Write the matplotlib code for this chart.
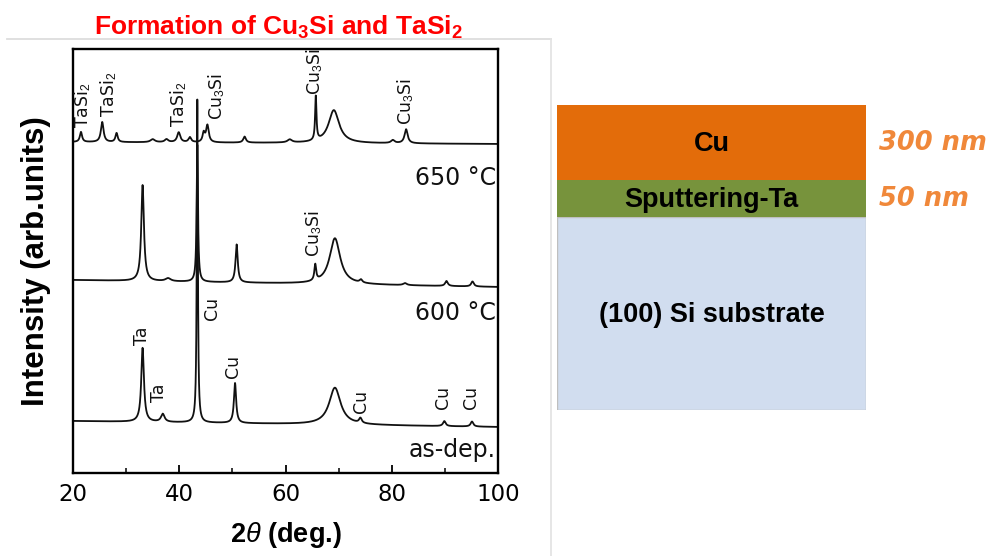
import numpy as np
import matplotlib
matplotlib.use('Agg')
from matplotlib import pyplot as plt
from matplotlib.lines import Line2D

plt.rcParams['font.family'] = ['DejaVu Sans']
plt.rcParams['mathtext.fontset'] = 'custom'
plt.rcParams['mathtext.rm'] = 'Liberation Sans'
plt.rcParams['mathtext.it'] = 'Liberation Sans:italic'
plt.rcParams['mathtext.bf'] = 'Liberation Sans:bold'

# XRD peaks (2theta in deg, height and half width in arb. units / deg)
pos_650 = [21.5, 25.5, 28.2, 35.0, 37.6, 39.9, 42.0, 44.6, 45.3, 52.3, 60.8, 65.7, 69.1, 80.2, 82.7]
hgt_650 = [10, 20, 9, 3, 3, 10, 5, 9, 17, 6, 3, 44, 33, 3, 14]
wid_650 = [0.25, 0.3, 0.25, 0.5, 0.4, 0.35, 0.3, 0.25, 0.3, 0.3, 0.5, 0.15, 1.2, 0.4, 0.35]
base_650 = (331, 329)

pos_600 = [33.1, 37.9, 43.4, 50.8, 65.6, 69.3, 74.2, 82.5, 90.3, 95.2]
hgt_600 = [96, 3, 137, 38, 16, 46, 3, 2, 5, 5]
wid_600 = [0.3, 0.6, 0.15, 0.25, 0.2, 1.2, 0.3, 0.4, 0.3, 0.3]
base_600 = (193, 186)

pos_dep = [33.1, 36.9, 43.4, 50.5, 69.3, 74.1, 89.9, 95.1]
hgt_dep = [74, 8, 323, 40, 37, 5, 5, 5]
wid_dep = [0.3, 0.4, 0.12, 0.25, 1.3, 0.3, 0.3, 0.3]
base_dep = (52, 46)

# peak labels: text, 2theta, bottom of label
labels_650 = [('TaSi$_2$', 21.8, 345), ('TaSi$_2$', 26.7, 356), ('TaSi$_2$', 39.9, 346),
              ('Cu$_3$Si', 47.0, 353), ('Cu$_3$Si', 65.5, 378), ('Cu$_3$Si', 82.7, 348)]
labels_600 = [('Cu$_3$Si', 65.3, 216)]
labels_dep = [('Ta', 33.0, 128), ('Ta', 36.2, 71), ('Cu', 46.2, 153), ('Cu', 50.1, 95),
              ('Cu', 74.3, 60), ('Cu', 89.6, 64), ('Cu', 95.0, 64)]
temps = [('650 °C', 288), ('600 °C', 153), ('as-dep.', 16)]

# layer stack, bottom to top
layer_names = ['(100) Si substrate', 'Sputtering-Ta', 'Cu']
layer_size = [193, 37, 75]
layer_thick = ['', '50 nm', '300 nm']
layer_colors = ['#D1DDEF', '#77933C', '#E36C0A']

two_theta = np.linspace(20, 100, 4001)


def pattern(base, pos, hgt, wid):
    y = base[0] + (base[1] - base[0]) * (two_theta - 20) / 80
    for p, h, w in zip(pos, hgt, wid):
        y = y + h * w**2 / ((two_theta - p)**2 + w**2)
    return y


fig = plt.figure(figsize=(9.9, 5.56), dpi=100)
ax = fig.add_axes([73 / 990, 1 - 473 / 556, 425 / 990, 424 / 556])

for base, pos, hgt, wid in [(base_dep, pos_dep, hgt_dep, wid_dep),
                            (base_600, pos_600, hgt_600, wid_600),
                            (base_650, pos_650, hgt_650, wid_650)]:
    ax.plot(two_theta, pattern(base, pos, hgt, wid), color='#111111', lw=1.3)

for txt, x, y in labels_650 + labels_600 + labels_dep:
    ax.text(x, y, txt, rotation=90, ha='center', va='bottom', fontsize=12.5, color='#111111')
for txt, y in temps:
    ax.text(99.6, y, txt, ha='right', va='baseline', fontsize=17, color='#111111')

ax.set_xlim(20, 100)
ax.set_ylim(0, 424)
ax.set_xticks([20, 40, 60, 80, 100])
ax.set_xticks([30, 50, 70, 90], minor=True)
ax.set_yticks([])
ax.tick_params(axis='x', which='major', direction='in', length=6, width=1.3, labelsize=16.5, pad=7)
ax.tick_params(axis='x', which='minor', direction='in', length=3.5, width=1.1)
for sp in ax.spines.values():
    sp.set_linewidth(1.7)

ax.set_xlabel(r'2$\theta$ (deg.)', family='Liberation Sans', fontweight='bold', fontsize=19.5)
ax.xaxis.set_label_coords(0.5, -0.11)
ax.set_ylabel('Intensity (arb.units)', family='Liberation Sans', fontweight='bold', fontsize=22.5)
ax.yaxis.set_label_coords(-0.052, 0.5)

fig.text(278 / 990, 1 - 35 / 556, r'Formation of Cu$_\mathbf{3}$Si and TaSi$_\mathbf{2}$',
         ha='center', va='baseline', color='#FF0000', family='Liberation Sans',
         fontweight='bold', fontsize=19)

# light frame around the XRD panel
fig.add_artist(Line2D([7 / 990, 551 / 990], [1 - 39 / 556, 1 - 39 / 556],
                      transform=fig.transFigure, color='#DDDDDD', lw=1.3))
fig.add_artist(Line2D([551 / 990, 551 / 990], [1 - 39 / 556, 0],
                      transform=fig.transFigure, color='#E4E4E4', lw=1.3))

# film stack
ax2 = fig.add_axes([557 / 990, 1 - 410 / 556, 309 / 990, 305 / 556])
bottoms = np.concatenate([[0], np.cumsum(layer_size)[:-1]])
ax2.bar(np.zeros(3), layer_size, bottom=bottoms, width=1, align='edge', color=layer_colors,
        edgecolor=['#BFBFBF', 'none', 'none'], lw=1)
ax2.set_xlim(0, 1)
ax2.set_ylim(0, sum(layer_size))
ax2.axis('off')
for name, b, s, th in zip(layer_names, bottoms, layer_size, layer_thick):
    ax2.text(0.5, b + s / 2 - 1.5, name, ha='center', va='center', family='Liberation Sans',
             fontweight='bold', fontsize=19.5, color='black')
    if th:
        ax2.text(1.042, b + s / 2, th, ha='left', va='center', fontweight='bold',
                 style='italic', fontsize=18.5, color='#F0883A', clip_on=False)

fig.savefig('out.png', dpi=100)
